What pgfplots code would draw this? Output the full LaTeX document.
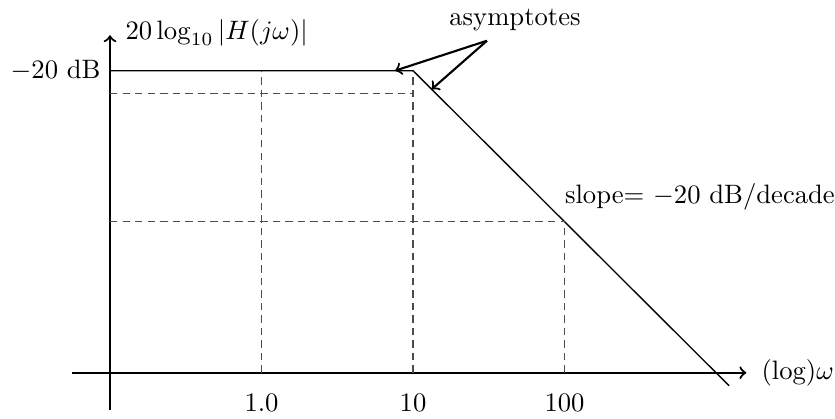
\documentclass[border=0pt]{standalone}
\usepackage{pgfplots}
\pgfplotsset{compat=1.18}

\begin{document}
\begin{tikzpicture}
\begin{axis}[
  x=2cm, y=0.09967cm,
  xmin=-1.25, xmax=3.2,
  ymin=-65, ymax=-15.3,
  enlargelimits=false,
  clip=false,
  axis lines=left,
  axis x line shift=-0.498cm,
  axis y line shift=-0.5cm,
  axis line style={thick, ->},
  major tick length=0pt,
  xtick={0,1,2},
  xticklabels={1.0,10,100},
  xticklabel style={yshift=-4.3pt},
  ytick={-20},
  yticklabels={$-20$ dB},
]
  % straight-line (asymptotic) magnitude: flat, then -20 dB/decade
  \addplot[black, line width=0.5pt] coordinates {(-1,-20) (1,-20) (3.086,-61.72)};

  % guide lines
  \addplot[black!70, line width=0.5pt, dash pattern=on 2.8pt off 1.9pt] coordinates {(-1,-23) (1,-23)};
  \addplot[black!70, line width=0.5pt, dash pattern=on 2.8pt off 1.9pt] coordinates {(-1,-40) (2,-40)};
  \addplot[black!70, line width=0.5pt, dash pattern=on 2.8pt off 1.9pt] coordinates {(0,-60) (0,-20)};
  \addplot[black!70, line width=0.5pt, dash pattern=on 2.8pt off 1.9pt] coordinates {(1,-60) (1,-20)};
  \addplot[black!70, line width=0.5pt, dash pattern=on 2.8pt off 1.9pt] coordinates {(2,-60) (2,-40)};

  % annotation arrows
  \addplot[thick, ->] coordinates {(1.488,-16.03) (0.881,-20)};
  \addplot[thick, ->] coordinates {(1.488,-16.03) (1.123,-22.46)};

  \node[anchor=base] at (axis cs:1.673,-13.95) {asymptotes};
  \node[anchor=base west, inner sep=0pt] at (axis cs:2.0,-37.56) {slope$=$ $-20$ dB/decade};
  \node[anchor=base west, inner sep=0pt] at (axis cs:-0.901,-15.84) {$20\log_{10}|H(j\omega)|$};
  \node[anchor=west, inner sep=0pt, xshift=5.5pt] at (axis cs:3.2,-60) {(log)$\omega$};

  \coordinate (bbl) at (axis cs:-1.726,-66.0);
  \coordinate (bbr) at (axis cs:3.785,-10.636);
\end{axis}
\pgfresetboundingbox
\path (bbl) rectangle (bbr);
\end{tikzpicture}
\end{document}
